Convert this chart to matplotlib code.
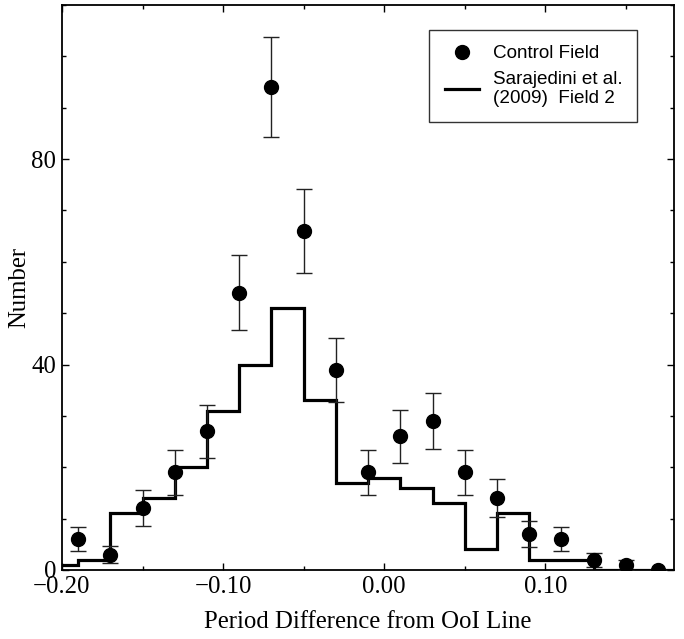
import matplotlib
matplotlib.use("Agg")
import matplotlib.pyplot as plt
from matplotlib.ticker import MultipleLocator, FixedLocator

# Control field points
ctrl_x = [-0.19, -0.17, -0.15, -0.13, -0.11, -0.09, -0.07, -0.05, -0.03, -0.01,
          0.01, 0.03, 0.05, 0.07, 0.09, 0.11, 0.13, 0.15, 0.17]
ctrl_n = [6, 3, 12, 19, 27, 54, 94, 66, 39, 19, 26, 29, 19, 14, 7, 6, 2, 1, 0]
ctrl_err = [2.4, 1.7, 3.5, 4.4, 5.2, 7.3, 9.7, 8.1, 6.2, 4.4, 5.1, 5.4, 4.4, 3.7,
            2.6, 2.4, 1.4, 1.0, 0.0]

# Sarajedini et al. (2009) Field 2 histogram
hist_edges = [-0.20, -0.19, -0.17, -0.15, -0.13, -0.11, -0.09, -0.07, -0.05, -0.03,
              -0.01, 0.01, 0.03, 0.05, 0.07, 0.09, 0.11, 0.13, 0.15, 0.17, 0.18]
hist_counts = [1, 2, 11, 14, 20, 31, 40, 51, 33, 17, 18, 16, 13, 4, 11, 2, 2, 0, 0, 0]

xticks = [-0.20, -0.10, 0.00, 0.10]
xticklabels = ["\u22120.20", "\u22120.10", "0.00", "0.10"]
yticks = [0, 40, 80]

serif = "Liberation Serif"
sans = "Liberation Sans"

fig = plt.figure(figsize=(6.84, 6.39), dpi=100)
ax = fig.add_axes([0.0906, 0.108, 0.895, 0.8842])

ax.stairs(hist_counts, hist_edges, baseline=None, color="black", lw=2.3,
          label="Sarajedini et al.\n(2009)  Field 2", zorder=2)
ax.errorbar(ctrl_x, ctrl_n, yerr=ctrl_err, fmt="none", ecolor="#222222",
            elinewidth=1.0, capsize=5.8, capthick=1.0, zorder=3)
ax.plot(ctrl_x, ctrl_n, "o", color="black", ms=10, ls="none",
        label="Control Field", zorder=4)

ax.set_xlim(-0.20, 0.18)
ax.set_ylim(0, 110)
ax.xaxis.set_major_locator(FixedLocator(xticks))
ax.set_xticklabels(xticklabels)
ax.xaxis.set_minor_locator(MultipleLocator(0.05))
ax.yaxis.set_major_locator(FixedLocator(yticks))
ax.yaxis.set_minor_locator(MultipleLocator(10))

ax.tick_params(which="both", direction="in", top=True, right=True, width=1.0,
               labelsize=17.8)
ax.tick_params(axis="x", pad=4)
ax.tick_params(axis="y", pad=4)
ax.tick_params(which="major", length=5)
ax.tick_params(which="minor", length=3)
for lab in ax.get_xticklabels() + ax.get_yticklabels():
    lab.set_fontfamily(serif)
for s in ax.spines.values():
    s.set_linewidth(1.3)

ax.set_xlabel("Period Difference from OoI Line", fontfamily=serif, fontsize=17.8,
              labelpad=10)
ax.set_ylabel("Number", fontfamily=serif, fontsize=17.8, labelpad=1)

handles, labels = ax.get_legend_handles_labels()
leg = ax.legend(handles[::-1], labels[::-1], loc="upper right",
                bbox_to_anchor=(0.94, 0.956), frameon=True, fancybox=False,
                prop={"family": sans, "size": 13.6}, handlelength=1.85,
                borderpad=0.8, labelspacing=0.45, handletextpad=0.7,
                borderaxespad=0)
leg.get_frame().set_edgecolor("black")
leg.get_frame().set_linewidth(1.0)

fig.savefig("out.png", dpi=100)
